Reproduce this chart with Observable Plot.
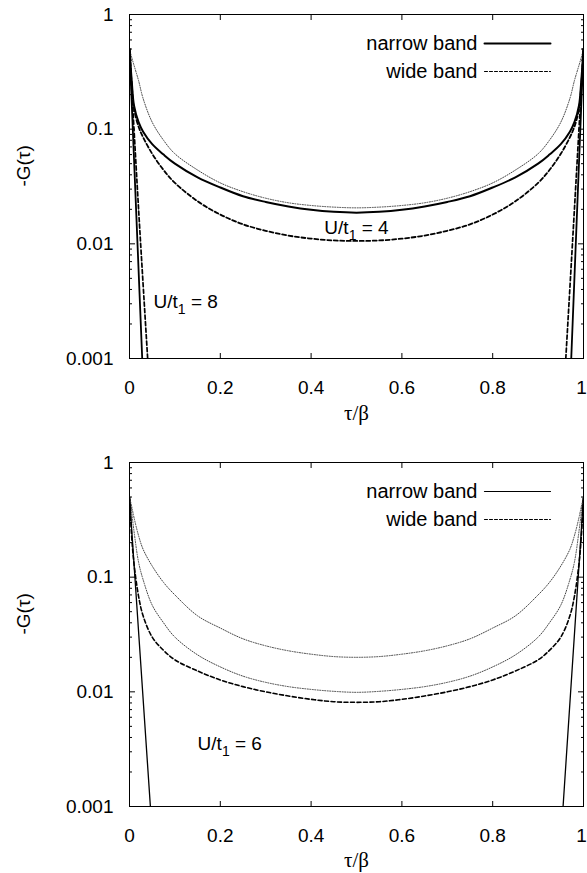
<!DOCTYPE html>
<html><head><meta charset="utf-8">
<script src="https://cdn.jsdelivr.net/npm/d3@7"></script>
<script src="https://cdn.jsdelivr.net/npm/@observablehq/plot@0.6"></script>
<style>
body{margin:0;background:#fff;}
#chart{width:587px;}
#chart svg{display:block;overflow:visible;}
</style></head><body><div id="chart"></div>
<script>
// imaginary-time grid (tau / beta)
const tau = [0, 0.005, 0.01, 0.02, 0.03, 0.05, 0.075, 0.1, 0.15, 0.2, 0.25, 0.3, 0.35, 0.4, 0.45, 0.5,
             0.55, 0.6, 0.65, 0.7, 0.75, 0.8, 0.85, 0.9, 0.925, 0.95, 0.97, 0.98, 0.99, 0.995, 1];

// top panel, U/t1 = 4
const topDotted = [0.5, 0.42, 0.36, 0.265, 0.185, 0.115, 0.080, 0.061, 0.044, 0.034, 0.0285, 0.0250, 0.0228, 0.0216, 0.0209, 0.0206,
                   0.0209, 0.0216, 0.0228, 0.0250, 0.0285, 0.034, 0.044, 0.061, 0.080, 0.115, 0.185, 0.265, 0.36, 0.42, 0.5];
const topNarrow = [0.5, 0.26, 0.16, 0.115, 0.095, 0.074, 0.060, 0.050, 0.038, 0.031, 0.026, 0.0232, 0.0212, 0.0198, 0.0190, 0.0187,
                   0.0190, 0.0198, 0.0212, 0.0232, 0.026, 0.031, 0.038, 0.050, 0.060, 0.074, 0.095, 0.115, 0.16, 0.26, 0.5];
const topWide   = [0.5, 0.24, 0.15, 0.105, 0.085, 0.061, 0.044, 0.034, 0.0235, 0.018, 0.0148, 0.0130, 0.0118, 0.0111, 0.0107, 0.0106,
                   0.0107, 0.0111, 0.0118, 0.0130, 0.0148, 0.018, 0.0235, 0.034, 0.044, 0.061, 0.085, 0.105, 0.15, 0.24, 0.5];
// top panel, U/t1 = 8 (steep insulating curves)
const topNarrow8Tau  = [0, 0.028];
const topNarrow8Val  = [0.5, 0.001];
const topNarrow8TauR = [0.973, 1];
const topNarrow8ValR = [0.001, 0.5];
const topWide8Tau  = [0, 0.02, 0.04];
const topWide8Val  = [0.5, 0.02, 0.001];
const topWide8TauR = [0.961, 0.98, 1];
const topWide8ValR = [0.001, 0.02, 0.5];

// bottom panel, U/t1 = 6
const botDotted1 = [0.5, 0.41, 0.33, 0.23, 0.175, 0.125, 0.090, 0.070, 0.046, 0.036, 0.029, 0.0252, 0.0228, 0.0213, 0.0203, 0.0200,
                    0.0203, 0.0213, 0.0228, 0.0252, 0.029, 0.036, 0.046, 0.070, 0.090, 0.125, 0.175, 0.23, 0.33, 0.41, 0.5];
const botDotted2 = [0.5, 0.36, 0.25, 0.135, 0.095, 0.057, 0.040, 0.030, 0.021, 0.0165, 0.0137, 0.0121, 0.0111, 0.0105, 0.0101, 0.0099,
                    0.0101, 0.0105, 0.0111, 0.0121, 0.0137, 0.0165, 0.021, 0.030, 0.040, 0.057, 0.095, 0.135, 0.25, 0.36, 0.5];
const botWide    = [0.5, 0.22, 0.13, 0.068, 0.046, 0.030, 0.023, 0.019, 0.0152, 0.0127, 0.0111, 0.0100, 0.0092, 0.0086, 0.0082, 0.0081,
                    0.0082, 0.0086, 0.0092, 0.0100, 0.0111, 0.0127, 0.0152, 0.019, 0.023, 0.030, 0.046, 0.068, 0.13, 0.22, 0.5];
const botNarrowTau  = [0, 0.046];
const botNarrowVal  = [0.5, 0.001];
const botNarrowTauR = [0.955, 1];
const botNarrowValR = [0.001, 0.5];

// axes
const xTicks = [0, 0.2, 0.4, 0.6, 0.8, 1];
const xTickLabels = ["0", "0.2", "0.4", "0.6", "0.8", "1"];
const yTicks = [0.001, 0.01, 0.1, 1];
const yTickLabels = ["0.001", "0.01", "0.1", "1"];
const yMinor = yTicks.slice(0, 3).flatMap(d => [2,3,4,5,6,7,8,9].map(k => d * k));
const legendLabels = ["narrow band", "wide band"];
const panelLabels = ["U/t1 = 4", "U/t1 = 8", "U/t1 = 6"];

(function () {
const FONT = "'Liberation Sans', Arial, Helvetica, sans-serif";
const rows = (xs, ys) => xs.map((t, i) => ({t, v: ys[i]}));
const lineShape = {draw(ctx, l) { ctx.moveTo(0, 0); ctx.lineTo(0, -l); }};
const fmtX = d => xTickLabels[xTicks.indexOf(d)];
const DASH = "4,2.5";

function frameMarks(tauLabelDy) {
  return [
    Plot.frame({stroke: "black", strokeWidth: 1}),
    Plot.axisX(xTicks.slice(0, 5), {anchor: "bottom", tickSize: 0, tickPadding: 22, tickFormat: fmtX, label: null, fontSize: 19}),
    Plot.axisX(xTicks.slice(5), {anchor: "bottom", tickSize: 0, tickPadding: 22, tickFormat: fmtX, label: null, fontSize: 19, dx: -2}),
    Plot.axisX(xTicks, {anchor: "bottom", tickSize: -5, fill: "none", stroke: "black", label: null}),
    Plot.axisX(xTicks, {anchor: "top", tickSize: -5, fill: "none", stroke: "black", label: null}),
    Plot.axisY(yTicks, {anchor: "left", tickSize: 0, tickPadding: 16, tickFormat: d => yTickLabels[yTicks.indexOf(d)], label: null, fontSize: 19}),
    Plot.axisY(yTicks, {anchor: "left", tickSize: -6, fill: "none", stroke: "black", label: null}),
    Plot.axisY(yMinor, {anchor: "left", tickSize: -3, fill: "none", stroke: "black", label: null}),
    Plot.axisY(yTicks, {anchor: "right", tickSize: -6, fill: "none", stroke: "black", label: null}),
    Plot.axisY(yMinor, {anchor: "right", tickSize: -3, fill: "none", stroke: "black", label: null}),
    Plot.text(["-G(τ)"], {text: d => d, frameAnchor: "left", dx: -106, rotate: -90, fontSize: 19, fontFamily: FONT}),
    Plot.text(["τ/β"], {text: d => d, frameAnchor: "bottom", dy: tauLabelDy, lineAnchor: "middle", fontSize: 21, fontFamily: "'Liberation Serif', 'DejaVu Serif', serif"})
  ];
}

function legendMarks(narrowWidth) {
  return [
    Plot.text([legendLabels[0]], {text: d => d, frameAnchor: "top-right", dx: -106, dy: 29, textAnchor: "end", lineAnchor: "middle", fontSize: 20, fontFamily: FONT}),
    Plot.text([legendLabels[1]], {text: d => d, frameAnchor: "top-right", dx: -106, dy: 57, textAnchor: "end", lineAnchor: "middle", fontSize: 20, fontFamily: FONT}),
    Plot.vector([0], {frameAnchor: "top-right", dx: -99, dy: 29, length: 66, rotate: 90, anchor: "start", shape: lineShape, stroke: "black", strokeWidth: narrowWidth}),
    Plot.vector([0], {frameAnchor: "top-right", dx: -99, dy: 57, length: 66, rotate: 90, anchor: "start", shape: lineShape, stroke: "black", strokeWidth: 1, strokeDasharray: "3,2"})
  ];
}

const common = {
  width: 587, marginLeft: 129, marginRight: 4, marginTop: 14,
  x: {domain: [0, 1]},
  y: {type: "log", domain: [0.001, 1]},
  style: {fontFamily: FONT, fontSize: "19px", color: "black", background: "white", overflow: "visible"}
};

const dotted = {stroke: "#444", strokeWidth: 1, strokeDasharray: "1,1.5"};
const C = "catmull-rom";

const topPlot = Plot.plot({
  ...common, height: 448, marginBottom: 90,
  marks: [
    ...frameMarks(55),
    Plot.line(rows(tau, topDotted), {x: "t", y: "v", curve: C, clip: true, ...dotted}),
    Plot.line(rows(tau, topNarrow), {x: "t", y: "v", curve: C, clip: true, stroke: "black", strokeWidth: 2}),
    Plot.line(rows(tau, topWide), {x: "t", y: "v", curve: C, clip: true, stroke: "black", strokeWidth: 1.8, strokeDasharray: DASH}),
    Plot.line(rows(topNarrow8Tau, topNarrow8Val), {x: "t", y: "v", clip: true, stroke: "black", strokeWidth: 1.8}),
    Plot.line(rows(topNarrow8TauR, topNarrow8ValR), {x: "t", y: "v", clip: true, stroke: "black", strokeWidth: 1.8}),
    Plot.line(rows(topWide8Tau, topWide8Val), {x: "t", y: "v", curve: C, clip: true, stroke: "black", strokeWidth: 1.7, strokeDasharray: DASH}),
    Plot.line(rows(topWide8TauR, topWide8ValR), {x: "t", y: "v", curve: C, clip: true, stroke: "black", strokeWidth: 1.7, strokeDasharray: DASH}),
    Plot.text([{x: 0.5, y: 0.0138, s: panelLabels[0]}], {x: "x", y: "y", text: "s", fontSize: 19, fontFamily: FONT}),
    Plot.text([{x: 0.053, y: 0.0031, s: panelLabels[1]}], {x: "x", y: "y", text: "s", textAnchor: "start", fontSize: 19, fontFamily: FONT}),
    ...legendMarks(2)
  ]
});

const bottomPlot = Plot.plot({
  ...common, height: 425, marginBottom: 67,
  marks: [
    ...frameMarks(54),
    Plot.line(rows(tau, botDotted1), {x: "t", y: "v", curve: C, clip: true, ...dotted}),
    Plot.line(rows(tau, botDotted2), {x: "t", y: "v", curve: C, clip: true, ...dotted}),
    Plot.line(rows(tau, botWide), {x: "t", y: "v", curve: C, clip: true, stroke: "black", strokeWidth: 1.6, strokeDasharray: DASH}),
    Plot.line(rows(botNarrowTau, botNarrowVal), {x: "t", y: "v", clip: true, stroke: "black", strokeWidth: 1.3}),
    Plot.line(rows(botNarrowTauR, botNarrowValR), {x: "t", y: "v", clip: true, stroke: "black", strokeWidth: 1.3}),
    Plot.text([{x: 0.15, y: 0.0035, s: panelLabels[2]}], {x: "x", y: "y", text: "s", textAnchor: "start", fontSize: 19, fontFamily: FONT}),
    ...legendMarks(1.2)
  ]
});

// subscripts for U/t1 labels
function subscript(svg) {
  svg.querySelectorAll("text").forEach(t => {
    const s = t.textContent;
    const m = /^U\/t1 = (\d)$/.exec(s);
    if (m) {
      t.textContent = "";
      const ns = "http://www.w3.org/2000/svg";
      t.appendChild(document.createTextNode("U/t"));
      const a = document.createElementNS(ns, "tspan");
      a.setAttribute("dy", "6"); a.setAttribute("font-size", "14"); a.textContent = "1";
      t.appendChild(a);
      const b = document.createElementNS(ns, "tspan");
      b.setAttribute("dy", "-6"); b.textContent = " = " + m[1];
      t.appendChild(b);
    }
  });
}
subscript(topPlot); subscript(bottomPlot);

const root = document.getElementById("chart");
root.appendChild(topPlot);
root.appendChild(bottomPlot);
})();
</script></body></html>
